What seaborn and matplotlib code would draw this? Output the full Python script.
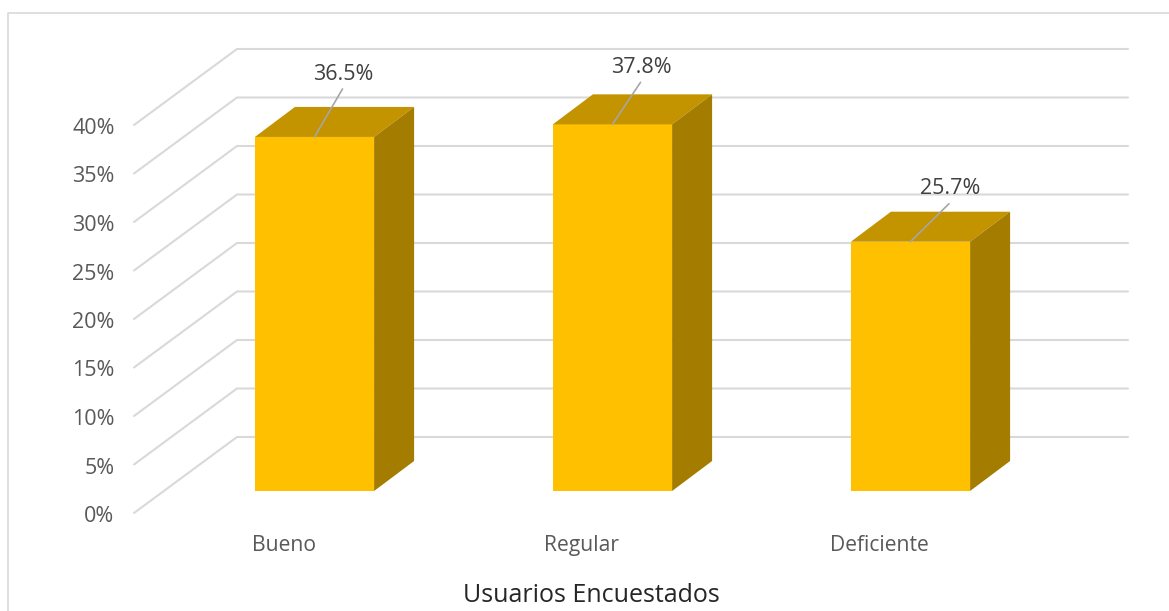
import numpy as np
import pandas as pd
import matplotlib.pyplot as plt
from matplotlib.lines import Line2D
import seaborn as sns

categories = ['Bueno', 'Regular', 'Deficiente']
values = [36.5, 37.8, 25.7]
y_ticks = [0, 5, 10, 15, 20, 25, 30, 35, 40]
x_title = 'Usuarios Encuestados'

# pixel offsets from the bar top centre: text centre and end of the leader line
text_dx = [28.5, 28.5, 39.5]
text_dy = [62, 57, 53]
leader_dx = [28, 28, 38.5]
leader_dy = [48, 42, 38]

GRID = '#D9D9D9'
FRONT = '#FFC000'
TOP = '#C49300'
SIDE = '#A47D00'

sns.set_theme(style='white')
plt.rcParams['font.family'] = ['Open Sans', 'DejaVu Sans']

W, H = 1169, 611
fig = plt.figure(figsize=(W / 100, H / 100), dpi=100)

# plot box in pixels, a little below the 0% line so that tick stays inside
left, right, top, bottom = 134, 1128, 49, 516
ax = fig.add_axes([left / W, 1 - bottom / H, (right - left) / W, (bottom - top) / H])

df = pd.DataFrame({'cat': categories, 'val': values})
sns.barplot(data=df, x='cat', y='val', color=FRONT, saturation=1, width=0.4,
            linewidth=0, edgecolor='none', ax=ax, zorder=3)

# 298 px between categories, 9.7 px per percent
px_x = 298
px_y = 9.7
ax.set_xlim(-(314.5 - left) / px_x, (right - 314.5) / px_x)
front_zero = -(513 - 491) / px_y
back_zero = (491 - 437) / px_y
back_x = -(314.5 - 237) / px_x
x0, x1 = ax.get_xlim()

# walls: diagonal from the front edge to the back plane, then across
for t in y_ticks:
    ax.plot([x0, back_x, x1], [front_zero + t, back_zero + t, back_zero + t],
            color=GRID, lw=1.5, solid_joinstyle='miter', clip_on=False, zorder=1)

# top and side faces of each box
dx = 40 / px_x
dy = 30 / px_y
for bar in ax.patches:
    xa, xb = bar.get_x(), bar.get_x() + bar.get_width()
    h = bar.get_height()
    ax.fill([xa, xb, xb + dx, xa + dx], [h, h, h + dy, h + dy], color=TOP, lw=0, zorder=3)
    ax.fill([xb, xb + dx, xb + dx, xb], [0, dy, h + dy, h], color=SIDE, lw=0, zorder=3)

# data labels with their leader lines
for i, v in enumerate(values):
    ax.plot([i, i + leader_dx[i] / px_x], [v, v + leader_dy[i] / px_y],
            color='#A6A6A6', lw=1.2, zorder=4)
    ax.text(i + text_dx[i] / px_x, v + text_dy[i] / px_y, f'{v}%', ha='center', va='center',
            color='#404040', fontsize=15.5, zorder=5)

# tick labels sit on the front edge of the wall lines, a pixel lower looks right
ax.set_yticks([front_zero + t - 1 / px_y for t in y_ticks])
ax.set_yticklabels([f'{t}%' for t in y_ticks])
ax.set_xticks(np.arange(len(categories)) - 31 / px_x)
ax.set_xticklabels(categories)
ax.tick_params(axis='y', length=0, pad=14, labelsize=15.5, labelcolor='#595959')
ax.tick_params(axis='x', length=0, pad=13.5, labelsize=15.2, labelcolor='#595959')

# set last, set_yticks widens the limits otherwise
ax.set_ylim(-(bottom - 491) / px_y, (491 - top) / px_y)
ax.set_xlim(x0, x1)

ax.set_ylabel('')
ax.set_xlabel(x_title, fontsize=18, color='#262626')
ax.xaxis.set_label_coords((591 - left) / (right - left), -(596 - bottom) / (bottom - top))
ax.xaxis.label.set_verticalalignment('center')

sns.despine(ax=ax, left=True, bottom=True)
ax.patch.set_alpha(0)

# chart frame, only left and top show in the crop
fig.add_artist(Line2D([8 / W, 8 / W, 1], [0, 1 - 12.5 / H, 1 - 12.5 / H],
                      color=GRID, lw=1.2, transform=fig.transFigure))

fig.savefig('out.png', dpi=100)
